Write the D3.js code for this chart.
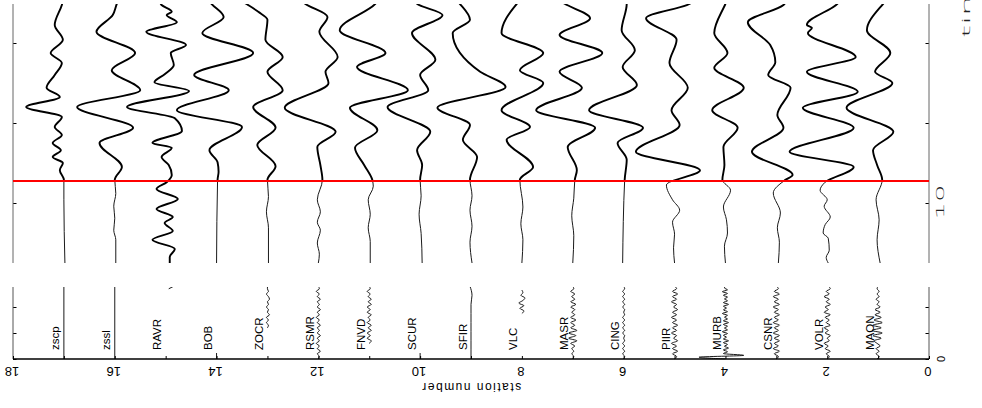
<!DOCTYPE html>
<html>
<head>
<meta charset="utf-8">
<script src="https://cdn.jsdelivr.net/npm/d3@7"></script>
<style>
  html, body { margin: 0; padding: 0; background: #fff; }
  svg { display: block; }
  text { font-family: "Liberation Sans", Arial, sans-serif; fill: #000; }
  .stretched { font-family: "DejaVu Sans", "Liberation Sans", sans-serif; font-weight: 200; fill: #222; }
</style>
</head>
<body>
<svg id="chart" width="982" height="408"></svg>
<script>
// ---- record section: station names and their station numbers ----
const stationNames = ["zscp","zssl","RAVR","BOB","ZOCR","RSMR","FNVD","SCUR","SFIR",
                      "VLC","MASR","CING","PIIR","MURB","CSNR","VOLR","MAON"];
const stationNumbers = [17,16,15,14,13,12,11,10,9,8,7,6,5,4,3,2,1];

// axis ticks and their labels
const stationAxisTicks = [18,16,14,12,10,8,6,4,2,0];
const timeTicks = [10,20,30];
const timeTickLabels = ["10","",""];
const lowerTicks = [0,1,2];
const lowerTickLabels = ["0","",""];
const timeTitle = "time";
const stationTitle = "station number";

// picked arrival time (s) drawn as the red marker
const pickTime = 12.75;
// traces that stay heavy before the pick as well
const heavyTraces = ["RAVR"];

// upper window: [time (s), amplitude] samples, one array per station (same order as names)
const upperTraces = [
  [[35.2,-1],[34.75,-2],[32.25,-9],[30.4,-1],[28.75,-13],[27.5,-2],[26.0,-9],[24.4,-17],[23.25,-4],[22.0,-37],[20.75,-2],[19.5,-9],[18.5,-2],[17.5,-11],[16.6,-3],[15.75,-11],[15.0,-1],[14.1,-4],[12.9,0],[10.4,0],[2.5,1]],
  [[35.2,3],[34.9,2],[33.5,-2],[31.4,-18],[28.75,20],[26.6,-3],[24.1,25],[22.0,-37],[19.4,18],[17.5,-15],[14.5,7],[12.9,0],[11.2,1],[9.6,-1],[8.1,0],[6.6,-1],[5.4,1],[2.5,1]],
  [[35.2,-6],[34.75,-4],[33.9,6],[33.5,1],[32.6,11],[31.4,-19],[29.75,20],[28.75,5],[27.25,8],[26.1,-1],[25.1,-11],[24.0,23],[22.0,-38],[20.6,9],[19.0,16],[17.5,-13],[16.9,6],[15.75,-4],[14.75,3],[13.5,6],[12.6,1],[11.75,-9],[10.5,12],[9.25,-9],[8.25,7],[7.5,-1],[6.5,7],[5.4,-13],[4.25,9],[3.25,4],[2.5,4]],
  [[35.2,-7],[34.9,-5],[33.25,7],[31.25,-14],[28.75,36],[26.0,-22],[24.1,12],[21.6,-39],[19.5,25],[16.6,-7],[15.1,1],[13.9,2],[12.9,1],[2.5,0]],
  [[35.2,-25],[34.9,-21],[33.9,-9],[32.9,0],[30.4,-2],[28.25,15],[26.4,0],[24.1,15],[22.0,-14],[19.4,8],[17.25,-10],[14.6,8],[12.9,0],[10.8,1],[8.9,-1],[6.9,1],[2.5,1]],
  [[35.2,-16],[34.9,-13],[33.25,9],[31.4,1],[28.25,19],[26.4,7],[25.0,10],[21.9,-33],[18.9,17],[17.0,-1],[14.75,2],[12.9,4],[10.4,-1],[8.9,2],[7.6,-1],[6.6,2],[5.0,-1],[3.6,1],[2.5,0]],
  [[35.2,8],[34.9,6],[31.6,-29],[28.75,16],[27.0,-12],[24.1,38],[21.9,-19],[19.1,8],[16.9,-14],[14.75,-5],[12.9,3],[12.1,4],[10.4,-1],[8.6,1],[6.9,-1],[5.2,1],[2.5,1]],
  [[35.2,-5],[34.9,-3],[33.5,22],[31.25,-8],[27.9,15],[26.0,0],[24.1,8],[22.0,-32],[18.9,10],[16.6,-3],[14.75,2],[12.9,0],[10.9,1],[8.6,-1],[6.2,1],[2.5,2]],
  [[35.2,-13],[34.9,-11],[32.9,-1],[31.25,-18],[26.4,9],[24.5,34],[21.9,-33],[19.75,-1],[17.9,-8],[15.75,6],[12.9,-1],[10.9,1],[9.1,-1],[7.1,1],[5.1,-1],[2.5,1]],
  [[35.2,-3],[34.9,-5],[31.25,-20],[28.75,21],[26.6,-2],[25.0,21],[21.6,-20],[19.5,8],[17.9,-15],[14.5,11],[12.9,-2],[9.5,1],[7.4,-1],[5.4,1],[2.5,0]],
  [[35.2,-12],[34.9,-8],[33.1,17],[31.0,-13],[28.75,29],[26.4,-13],[24.4,9],[21.6,-36],[19.4,22],[17.0,-5],[14.1,4],[12.9,2],[10.6,1],[8.4,-1],[5.9,1],[2.5,0]],
  [[35.2,3],[34.9,3],[31.6,-2],[29.1,11],[27.0,-1],[24.75,13],[21.6,-34],[19.4,19],[17.5,-6],[15.4,3],[12.9,1],[2.5,-1]],
  [[35.2,18],[34.9,15],[33.1,-28],[30.4,2],[27.5,-5],[24.4,13],[21.6,-3],[19.75,5],[16.4,-38],[14.1,25],[12.25,-8],[10.4,-2],[9.1,5],[7.6,-2],[6.1,0],[4.4,-1],[2.5,0]],
  [[35.2,1],[34.9,0],[31.25,-11],[28.75,2],[26.9,-11],[24.4,18],[21.6,-13],[19.4,12],[17.0,-2],[14.75,-1],[12.9,-3],[11.6,5],[9.5,-2],[7.9,1],[6.25,2],[4.6,-1],[2.5,0]],
  [[35.2,10],[34.75,7],[32.6,-28],[29.75,-6],[27.6,-1],[26.0,-8],[24.4,14],[21.0,1],[19.4,7],[16.4,-24],[13.5,16],[12.9,9],[11.25,-3],[8.75,4],[6.9,1],[5.1,3],[2.5,2]],
  [[35.2,12],[34.9,10],[32.25,-20],[31.9,-15],[31.25,-19],[28.25,28],[26.4,-20],[23.9,30],[21.9,-24],[19.4,26],[16.4,-37],[14.5,26],[12.6,-2],[11.6,-7],[10.4,0],[9.6,-3],[8.25,3],[7.3,-2],[6.25,-4],[5.6,1],[4.1,2],[3.2,-1],[2.5,1]],
  [[35.2,7],[34.9,5],[31.6,-11],[28.75,12],[26.4,-3],[25.0,14],[21.9,-31],[18.9,15],[16.6,-5],[14.75,-1],[12.9,4],[10.4,-2],[7.9,1],[5.4,-1],[2.5,2]]
];

// lower window: [start, sample step, amplitudes] per station
const lowerTraces = [
  [0, 2.8, [0,0]],
  [0, 2.8, [0,0]],
  [2.7, 0.1, [3,8]],
  [0, 0.23, [0,0]],
  [1.2, 0.1, [0,1,-1,1,-1,2,0,1,-1,1,0,2,1,-1,1,0,0]],
  [0, 0.1, [0,1,-1,2,-1,1,-2,1,-1,2,-1,1,-1,2,-1,1,-2,1,-1,2,-1,1,-1,2,-1,1,-2,1,0]],
  [0.6, 0.1, [0,2,-2,1,-2,2,-1,2,-2,1,-1,2,-2,1,-2,2,-1,2,-1,1,-2,1,0]],
  [0, 0.23, [0,0]],
  [0, 0.35, [0,0,0,0,0,0,0,1,-1]],
  [1.75, 0.1, [0,2,-2,2,-3,1,3,-1,1,0]],
  [0, 0.1, [0,1,-1,1,-1,2,-2,4,-4,3,-4,4,-2,2,-2,3,-2,2,-1,2,-2,3,-2,2,-1,2,-2,1,0]],
  [0, 0.1, [0,1,-1,1,-1,1,-1,1,0,1,-1,1,-1,1,-1,1,-1,1,0,1,-1,1,-1,1,-1,1,-1,1,0]],
  [0, 0.1, [0,2,-2,3,-2,2,-3,3,-1,2,-3,2,-2,3,-2,2,-3,2,-2,3,-1,2,-3,2,-2,3,-2,2,0]],
  [0, 0.07, [0,-26,18,-2,2,-2,3,-1,2,-2,3,-2,1,-2,2,-3,2,-1,2,-2,3,-2,2,-1,2,-3,2,-2,1,-2,3,-2,2,-1,2,-2,2,-3,2,-1,0]],
  [0, 0.1, [0,2,-2,3,-3,2,-2,3,-2,3,-3,2,-2,3,-3,2,-2,3,-2,2,-3,3,-2,2,-3,3,-2,2,0]],
  [0, 0.1, [0,2,-1,3,-2,1,-3,2,0,3,-2,1,-3,3,-1,2,-2,3,-3,1,-2,3,-1,2,-3,2,-1,3,1]],
  [0, 0.1, [-1,1,-2,1,-2,2,-1,-4,3,-5,4,-6,3,-5,4,-4,3,-3,2,-3,2,-1,1,-2,1,-1,1,-1,0]]
];

// ---- layout ----
const svg = d3.select("#chart");
const upperBox = { top: 4, bottom: 263 };
const lowerBox = { top: 287, bottom: 359 };

const x = d3.scaleLinear().domain([18, 0]).range([13, 929]);
const yTime = d3.scaleLinear().domain([10, 30]).range([203, 43]);
const yLow = d3.scaleLinear().domain([0, 1]).range([359, 333]);
// 50 amplitude units span one station spacing
const amp = d3.scaleLinear().domain([0, 50]).range([0, x(17) - x(18)]);

const left = x.range()[0], right = x.range()[1];
const pickY = yTime(pickTime);

const defs = svg.append("defs");
function clipRect(id, y0, y1) {
  defs.append("clipPath").attr("id", id)
    .append("rect").attr("x", 0).attr("y", y0).attr("width", 982).attr("height", y1 - y0);
}
clipRect("clip-after", upperBox.top, pickY);
clipRect("clip-before", pickY, upperBox.bottom);
clipRect("clip-lower", lowerBox.top, lowerBox.bottom + 0.5);

// ---- upper window traces ----
const gUpper = svg.append("g");
stationNames.forEach((name, i) => {
  const s = stationNumbers[i];
  const pts = d3.sort(upperTraces[i], d => d[0]);
  const line = d3.line()
    .x(d => x(s) + amp(d[1]))
    .y(d => yTime(d[0]))
    .curve(d3.curveMonotoneY);
  const dPath = line(pts);
  gUpper.append("path").attr("d", dPath)
    .attr("clip-path", "url(#clip-after)")
    .attr("fill", "none").attr("stroke", "#000").attr("stroke-width", 1.9);
  const heavy = heavyTraces.includes(name);
  gUpper.append("path").attr("d", dPath)
    .attr("clip-path", "url(#clip-before)")
    .attr("fill", "none").attr("stroke", heavy ? "#000" : "#1a1a1a")
    .attr("stroke-width", heavy ? 1.9 : 1);
});

// upper window frame: side axes with inward ticks
const axUpperL = d3.axisRight(yTime).tickValues(timeTicks).tickSize(3.5).tickFormat("");
const axUpperR = d3.axisLeft(yTime).tickValues(timeTicks).tickSize(3.5).tickFormat("");
svg.append("g").attr("transform", `translate(${left},0)`).call(axUpperL)
  .call(g => g.select(".domain").remove());
svg.append("g").attr("transform", `translate(${right},0)`).call(axUpperR)
  .call(g => g.select(".domain").remove());
[left, right].forEach(xx => {
  svg.append("line").attr("x1", xx).attr("x2", xx)
    .attr("y1", upperBox.top).attr("y2", upperBox.bottom)
    .attr("stroke", "#666").attr("stroke-width", 1);
});

// pick marker
svg.append("line")
  .attr("x1", left).attr("x2", right)
  .attr("y1", pickY).attr("y2", pickY)
  .attr("stroke", "#ff0000").attr("stroke-width", 2);

// time tick labels (stretched along the reading direction)
timeTicks.forEach((t, i) => {
  if (!timeTickLabels[i]) return;
  svg.append("text").attr("class", "stretched")
    .attr("transform", `translate(944,${yTime(t) - 1}) rotate(-90) scale(2.5,1)`)
    .attr("text-anchor", "middle")
    .style("font-size", "11px")
    .text(timeTickLabels[i]);
});
svg.append("text").attr("class", "stretched")
  .attr("transform", `translate(970,38) rotate(-90) scale(3,1)`)
  .attr("text-anchor", "start")
  .style("font-size", "11px")
  .text(timeTitle);

// ---- lower window traces ----
const gLower = svg.append("g").attr("clip-path", "url(#clip-lower)");
stationNames.forEach((name, i) => {
  const s = stationNumbers[i];
  const [start, step, vals] = lowerTraces[i];
  const line = d3.line()
    .x(d => x(s) + amp(d))
    .y((d, k) => yLow(start + k * step))
    .curve(d3.curveMonotoneY);
  gLower.append("path").attr("d", line(vals))
    .attr("fill", "none").attr("stroke", "#1a1a1a").attr("stroke-width", 1);
});

// station labels
stationNames.forEach((name, i) => {
  svg.append("text")
    .attr("transform", `translate(${x(stationNumbers[i]) - 4.5},350) rotate(-90)`)
    .attr("text-anchor", "start")
    .style("font-size", "11.5px")
    .text(name);
});

// lower window frame
const axLowerL = d3.axisRight(yLow).tickValues(lowerTicks).tickSize(3.5).tickFormat("");
const axLowerR = d3.axisLeft(yLow).tickValues(lowerTicks).tickSize(3.5).tickFormat("");
svg.append("g").attr("transform", `translate(${left},0)`).call(axLowerL)
  .call(g => g.select(".domain").remove());
svg.append("g").attr("transform", `translate(${right},0)`).call(axLowerR)
  .call(g => g.select(".domain").remove());
[left, right].forEach(xx => {
  svg.append("line").attr("x1", xx).attr("x2", xx)
    .attr("y1", lowerBox.top).attr("y2", lowerBox.bottom)
    .attr("stroke", "#555").attr("stroke-width", 1);
});
lowerTicks.forEach((v, i) => {
  if (!lowerTickLabels[i]) return;
  svg.append("text")
    .attr("transform", `translate(945,${yLow(v)}) rotate(-90)`)
    .attr("text-anchor", "middle")
    .attr("dy", "0")
    .style("font-size", "11px")
    .text(lowerTickLabels[i]);
});

// station-number axis (printed upside down)
const axStation = d3.axisTop(x).tickValues(d3.range(0, 19)).tickSize(3).tickFormat("");
svg.append("g").attr("transform", `translate(0,${lowerBox.bottom})`).call(axStation)
  .call(g => g.select(".domain").remove());
svg.append("line").attr("x1", left).attr("x2", right)
  .attr("y1", lowerBox.bottom).attr("y2", lowerBox.bottom)
  .attr("stroke", "#000").attr("stroke-width", 1.5);
stationAxisTicks.forEach(v => {
  svg.append("text")
    .attr("transform", `translate(${x(v) - 1},367) rotate(180)`)
    .attr("text-anchor", "middle")
    .style("font-size", "13px")
    .text(v);
});
svg.append("text")
  .attr("transform", `translate(${x(9)},383) rotate(180)`)
  .attr("text-anchor", "middle")
  .style("font-size", "12px")
  .style("letter-spacing", "1.5px")
  .text(stationTitle);
</script>
</body>
</html>
